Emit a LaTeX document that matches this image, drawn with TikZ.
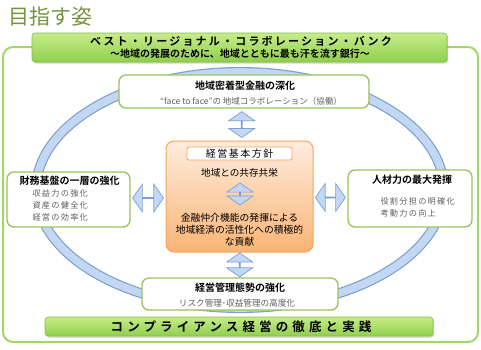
\documentclass[tikz,border=0pt]{standalone}
\usepackage{fontspec}
\setmainfont{Noto Sans CJK JP}[BoldFont={Noto Sans CJK JP Bold}]
\newfontfamily\jpwide{Noto Sans CJK JP}[LetterSpace=15]
\newfontfamily\jpbold{Noto Sans CJK JP Bold}[LetterSpace=20]
\newfontfamily\jpband{Noto Sans CJK JP Bold}[LetterSpace=33]
\usetikzlibrary{shapes.arrows,shadows,calc}
\definecolor{titlegreen}{HTML}{77933C}
\definecolor{framegreen}{HTML}{A2D665}
\definecolor{boxgreen}{HTML}{9BC25A}
\definecolor{bandtop}{HTML}{C6EC8A}
\definecolor{bandbot}{HTML}{8FCF4C}
\definecolor{bandedge}{HTML}{86BE48}
\definecolor{ringfill}{HTML}{C3D7F2}
\definecolor{ringedge}{HTML}{7BA0D4}
\definecolor{coretop}{HTML}{FEEDDF}
\definecolor{corebot}{HTML}{F9B475}
\definecolor{coreedge}{HTML}{F6A458}
\definecolor{subgray}{HTML}{5F5F5F}
\tikzset{
  box/.style={draw=boxgreen, line width=1.3pt, rounded corners=7pt, fill=white},
  band/.style={draw=bandedge, line width=0.6pt, rounded corners=3pt, top color=bandtop, bottom color=bandbot,
    drop shadow={opacity=0.35, shadow xshift=1.2pt, shadow yshift=-1.5pt}},
  dbl/.style={double arrow, draw=ringedge, fill=ringfill, line width=0.7pt, inner sep=0pt,
    double arrow head extend=8pt, double arrow tip angle=110, minimum width=26pt},
  head/.style={font=\bfseries\fontsize{10}{10}\selectfont},
  sub/.style={text=subgray, font=\jpwide\fontsize{8.2}{12}\selectfont, align=left},
}

\begin{document}
\begin{tikzpicture}[x=1pt, y=-1pt]
  \useasboundingbox (0,0) rectangle (481,349);
  % frame and ring
  \draw[framegreen, line width=2pt, rounded corners=10pt] (3,47) rectangle (478,342);
  \draw[ringedge, line width=10pt] (240,190) ellipse [x radius=204, y radius=118];
  \draw[ringfill, line width=7.6pt] (240,190) ellipse [x radius=204, y radius=118];
  \node[text=titlegreen, font=\fontsize{21}{21}\selectfont] (goal) at (51,17) {目指す姿};
  % vision banner
  \node[band, minimum width=415pt, minimum height=29pt] (vision) at (239.5,47.5) {};
  \node[font=\jpbold\fontsize{11}{11}\selectfont] (visionA) at (241,41) {ベスト・リージョナル・コラボレーション・バンク};
  \node[font=\bfseries\fontsize{10}{10}\selectfont] (visionB) at (240,54) {～地域の発展のために、地域とともに最も汗を流す銀行～};
  % four boxes round the policy
  \node[box, minimum width=250pt, minimum height=33pt] (local) at (244,91.5) {};
  \node[head] (localT) at (245,86) {地域密着型金融の深化};
  \node[text=subgray, font=\fontsize{8.5}{10}\selectfont] (localS) at (251,101.5) {“face to face”の 地域コラボレーション（協働）};
  \node[box, minimum width=123pt, minimum height=55pt] (finance) at (68.5,199.5) {};
  \node[head, anchor=west] (financeT) at (16,181) {財務基盤の一層の強化};
  \node[sub, anchor=west] (financeS) at (29,205.5) {収益力の強化\\資産の健全化\\経営の効率化};
  \node[box, minimum width=124pt, minimum height=57pt] (people) at (410,198.5) {};
  \node[head] (peopleT) at (412,180) {人材力の最大発揮};
  \node[sub, anchor=west] (peopleS) at (377,207.5) {役割分担の明確化\\考動力の向上};
  \node[box, minimum width=196pt, minimum height=32pt] (control) at (240,294) {};
  \node[head] (controlT) at (240,288) {経営管理態勢の強化};
  \node[text=subgray, font=\fontsize{8.6}{10}\selectfont] (controlS) at (237,303) {リスク管理･収益管理の高度化};
  % basic policy
  \node[draw=coreedge, line width=1pt, rounded corners=8pt, top color=coretop, bottom color=corebot,
    minimum width=147pt, minimum height=111pt] (policy) at (239.5,196.5) {};
  \node[draw=coreedge, fill=white, line width=0.8pt, rounded corners=2pt, minimum width=105pt, minimum height=13pt,
    inner sep=0pt, font=\jpwide\fontsize{10}{10}\selectfont] (policyT) at (239.5,153.5) {経営基本方針};
  \node[font=\fontsize{9.6}{10}\selectfont] (coexist) at (239.5,173) {地域との共存共栄};
  \node[dbl, rotate=90, minimum height=22pt, minimum width=26pt, double arrow head extend=7.5pt] (inner) at (240,194) {};
  \node[font=\fontsize{9.8}{12}\selectfont, align=center] (contrib) at (239.5,230) {金融仲介機能の発揮による\\地域経済の活性化への積極的\\な貢献};
  % arrows between boxes
  \node[dbl, rotate=90, minimum height=26pt] (upA) at ($(local.south)!0.5!(policy.north)$) {};
  \node[dbl, rotate=90, minimum height=24pt] (downA) at ($(policy.south)!0.5!(control.north)$) {};
  \node[dbl, minimum height=31pt, minimum width=28pt] (leftA) at ($(finance.east)!0.5!(policy.west)$) {};
  \node[dbl, minimum height=30pt, minimum width=28pt] (rightA) at ($(policy.east)!0.5!(people.west)$) {};
  % compliance banner
  \node[band, minimum width=388pt, minimum height=19pt] (comply) at (239,326.5) {};
  \node[font=\jpband\fontsize{12.5}{12.5}\selectfont] (complyT) at (241,326.5) {コンプライアンス経営の徹底と実践};
\end{tikzpicture}
\end{document}
